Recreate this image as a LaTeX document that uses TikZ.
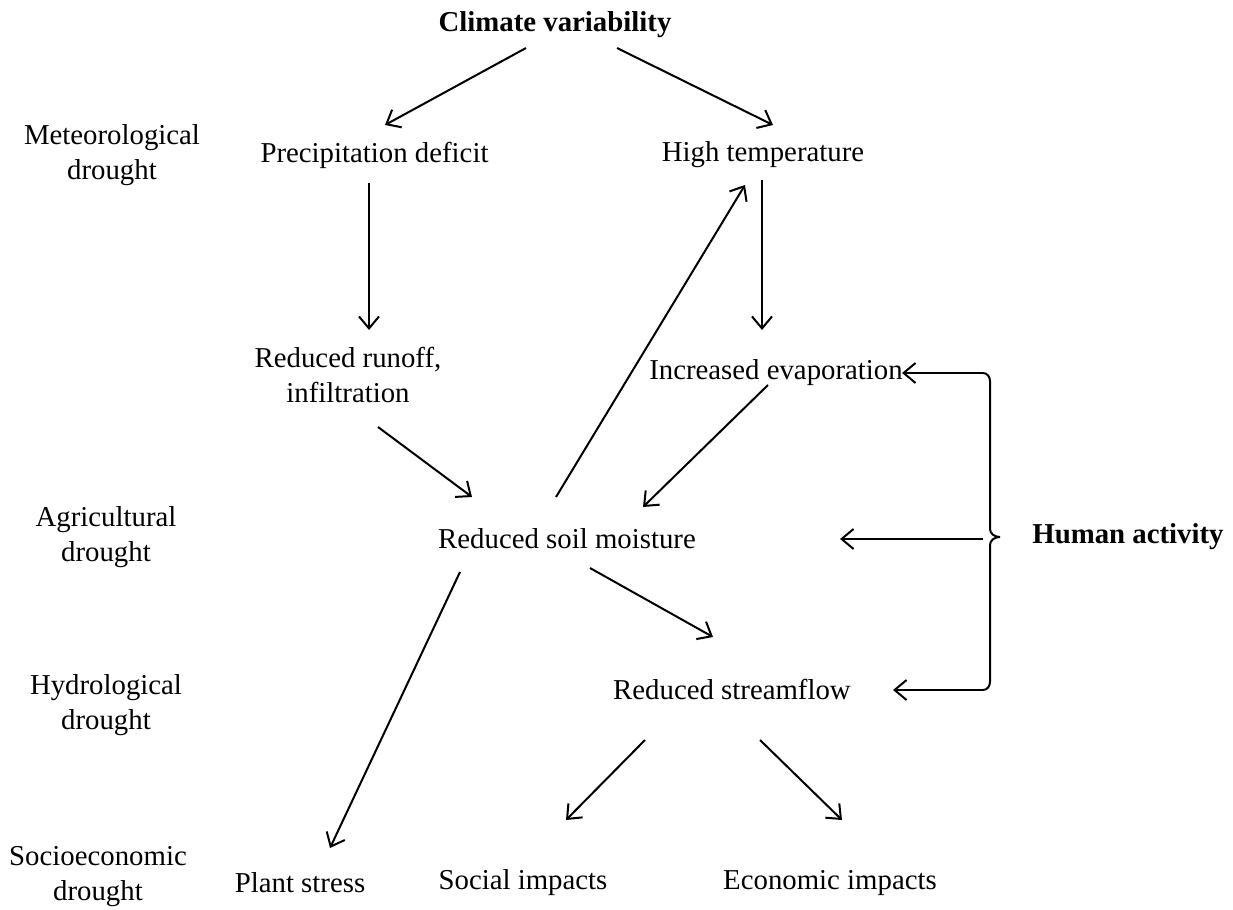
\documentclass[tikz,border=0pt]{standalone}
\usepackage{fontspec}
\setmainfont{Liberation Serif}
\usetikzlibrary{arrows.meta,calc}
\begin{document}
\begin{tikzpicture}[x=0.75pt,y=-0.75pt,
  lbl/.style={font=\fontsize{21.6}{26.3}\selectfont,align=center,inner sep=0pt},
  blbl/.style={lbl,font=\fontsize{21.6}{26.3}\selectfont\bfseries},
  conn/.style={line width=1.5pt},
  arr/.style={conn,-{Straight Barb[length=9pt,width=15pt,line width=1.5pt]}}]
\useasboundingbox (0,0) rectangle (1233,910);
% nodes
\node[blbl] (cv) at (555,25) {Climate variability};
\node[lbl] (met) at (112,155) {Meteorological\\drought};
\node[lbl] (pd) at (374.5,155) {Precipitation deficit};
\node[lbl] (ht) at (763,155) {High temperature};
\node[lbl] (rr) at (348,375) {Reduced runoff,\\infiltration};
\node[lbl] (ev) at (776,373) {Increased evaporation};
\node[lbl] (agr) at (106,537) {Agricultural\\drought};
\node[lbl] (sm) at (567,539) {Reduced soil moisture};
\node[blbl] (ha) at (1128,537) {Human activity};
\node[lbl] (hyd) at (106,705) {Hydrological\\drought};
\node[lbl] (rs) at (732,689) {Reduced streamflow};
\node[lbl] (soc) at (98,877) {Socioeconomic\\drought};
\node[lbl] (ps) at (300,883) {Plant stress};
\node[lbl] (si) at (523,883) {Social impacts};
\node[lbl] (ei) at (830,883) {Economic impacts};
% connectors
\draw[arr] ($(cv)+(-29,23)$) -- ($(pd)+(10.5,-30)$);
\draw[arr] ($(cv)+(62,23)$) -- ($(ht)+(10,-30)$);
\draw[arr] ($(pd)+(-5.5,28)$) -- ($(rr)+(21,-45)$);
\draw[arr] ($(ht)+(-1,25)$) -- ($(ev)+(-14,-43)$);
\draw[arr] ($(sm)+(-11,-42)$) -- ($(ht)+(-18,30)$);
\draw[arr] ($(rr)+(30,52)$) -- ($(sm)+(-95,-42)$);
\draw[arr] ($(ev)+(-8,12)$) -- ($(sm)+(76,-32)$);
\draw[arr] ($(sm)+(-107,33)$) -- ($(ps)+(30,-35)$);
\draw[arr] ($(sm)+(23,29)$) -- ($(rs)+(-19,-52)$);
\draw[arr] ($(rs)+(-87,51)$) -- ($(si)+(43,-63)$);
\draw[arr] ($(rs)+(28,51)$) -- ($(ei)+(12,-63)$);
% brace
\coordinate (btop) at (983,373);
\coordinate (bbot) at (983,690);
\coordinate (bmid) at (983,539);
\coordinate (tip) at (1000,537);
\draw[arr] (bmid) -- ($(sm)+(273,0)$);
\draw[arr] (btop) -- ($(ev)+(126,0)$);
\draw[arr] (bbot) -- ($(rs)+(161,1)$);
\draw[conn] (btop) to[out=0,in=90] (990,381) -- (990,529) to[out=-90,in=180] (tip);
\draw[conn] (tip) to[out=180,in=90] (990,545) -- (990,682) to[out=-90,in=0] (bbot);
\end{tikzpicture}
\end{document}
